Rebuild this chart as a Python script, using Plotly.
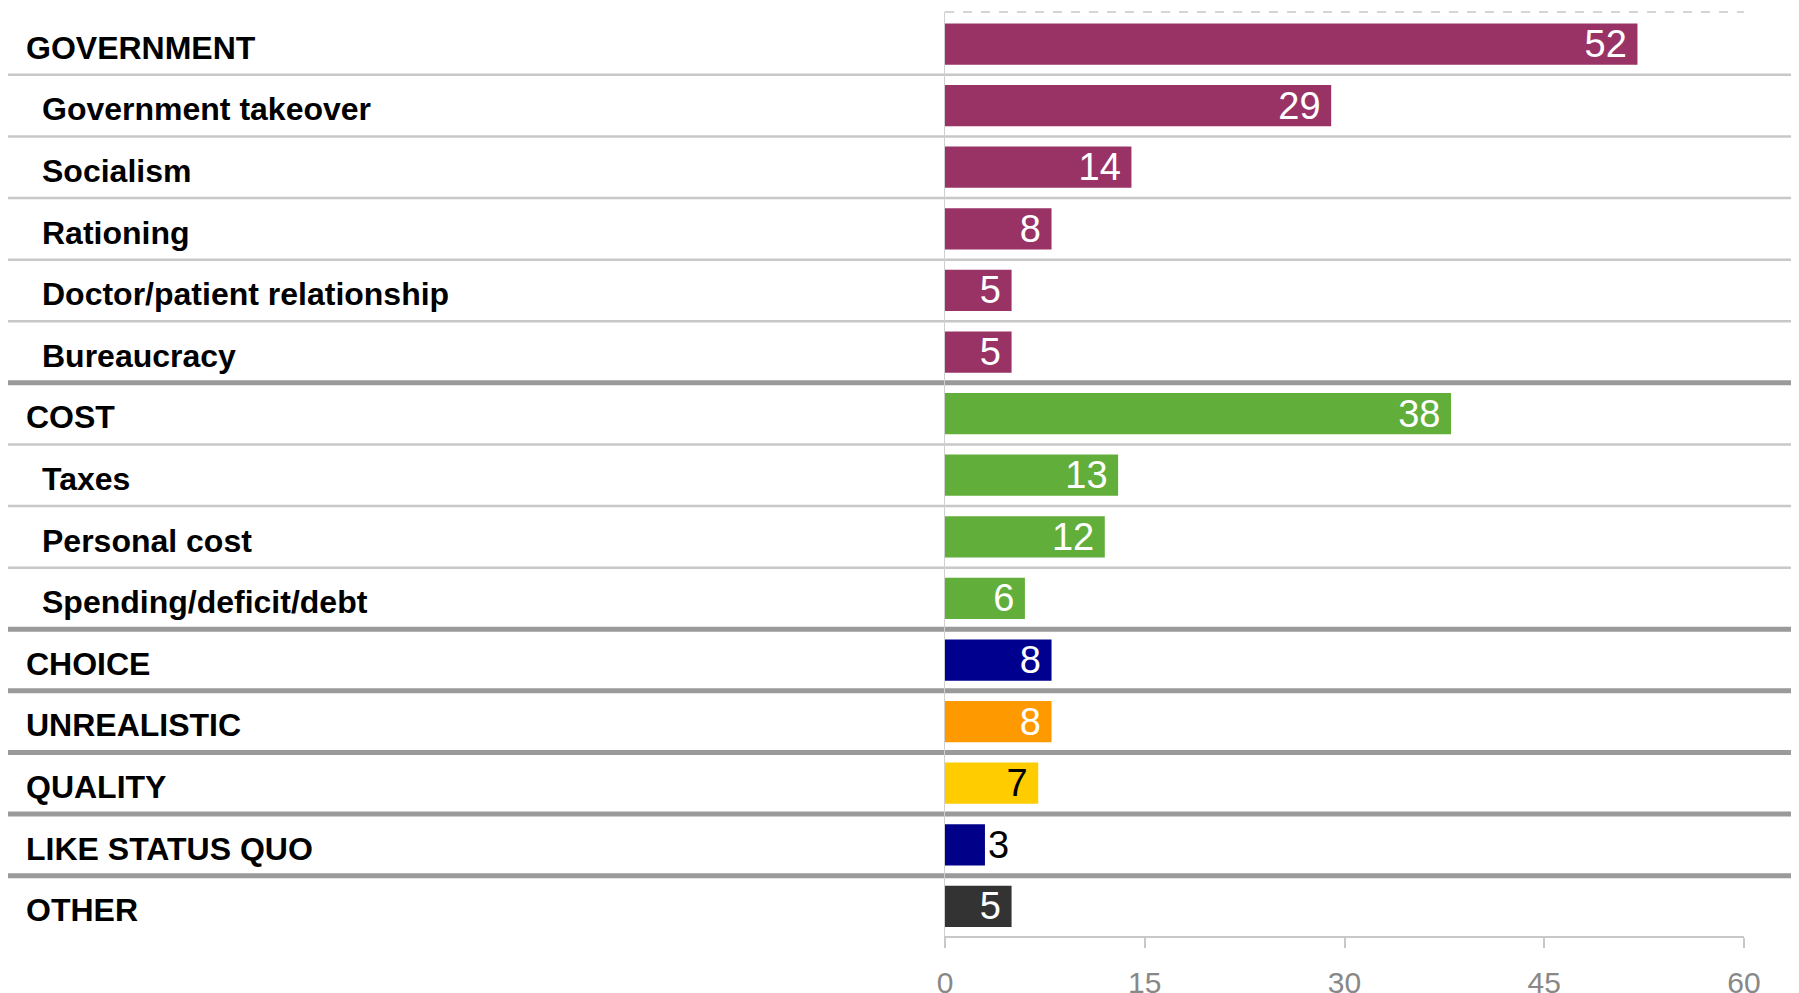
import plotly.graph_objects as go

categories = ["GOVERNMENT", "Government takeover", "Socialism", "Rationing",
              "Doctor/patient relationship", "Bureaucracy", "COST", "Taxes",
              "Personal cost", "Spending/deficit/debt", "CHOICE", "UNREALISTIC",
              "QUALITY", "LIKE STATUS QUO", "OTHER"]
values = [52, 29, 14, 8, 5, 5, 38, 13, 12, 6, 8, 8, 7, 3, 5]
is_header = [True, False, False, False, False, False, True, False, False, False,
             True, True, True, True, True]
bar_colors = ["#993366"] * 6 + ["#62AE3A"] * 4 + ["#00008F", "#FF9900", "#FFCC00",
                                                 "#000088", "#333333"]
text_colors = ["white"] * 12 + ["black", "black", "white"]
text_positions = ["inside"] * 13 + ["outside", "inside"]
thick_after = [5, 9, 10, 11, 12, 13]
tick_vals = [0, 15, 30, 45, 60]

# figure placed inside the default 8px body margin, reaching the viewport edges
W, H = 1791, 985
FONT = "Liberation Sans, Arial, sans-serif"
rows = list(range(len(categories)))

labels = [(str(v) + "\u2009") if p == "inside" else str(v)
          for v, p in zip(values, text_positions)]

fig = go.Figure()
fig.add_trace(go.Bar(
    x=values, y=rows, orientation="h",
    marker=dict(color=bar_colors, line=dict(width=0)),
    width=0.67,
    text=labels,
    textposition=text_positions,
    insidetextanchor="end",
    textangle=0,
    textfont=dict(family=FONT, size=38, color=text_colors),
    constraintext="none",
    cliponaxis=False,
    hoverinfo="skip",
))

shapes = []
for i in range(len(categories) - 1):
    thick = i in thick_after
    shapes.append(dict(
        type="line", xref="paper", yref="y",
        x0=0, x1=1, y0=i + 0.5, y1=i + 0.5,
        line=dict(color="#9a9a9a" if thick else "#c8c8c8", width=5 if thick else 2.5),
        layer="below",
    ))
shapes.append(dict(type="line", xref="x", yref="paper", x0=0, x1=60, y0=1, y1=1,
                   line=dict(color="#c8c8c8", width=1.5, dash="dash"), layer="below"))

annotations = []
for i, (c, h) in enumerate(zip(categories, is_header)):
    annotations.append(dict(
        x=(16 if h else 32) / W, xref="paper", xanchor="left",
        y=i + 0.06, yref="y", yanchor="middle",
        text="<b>" + c + "</b>", showarrow=False,
        font=dict(family=FONT, size=32, color="black"),
    ))

t, b = 3.5, 57
fig.update_layout(
    width=W, height=H,
    margin=dict(l=0, r=0, t=t, b=b, pad=0),
    paper_bgcolor="white", plot_bgcolor="white",
    showlegend=False,
    shapes=shapes, annotations=annotations,
    xaxis=dict(
        domain=[937 / W, 1736 / W], range=[0, 60],
        tickvals=tick_vals, ticktext=[str(v) for v in tick_vals],
        showgrid=False, zeroline=False,
        showline=True, linecolor="#c8c8c8", linewidth=2,
        ticks="outside", ticklen=10, tickcolor="#c8c8c8", tickwidth=2,
        ticklabelstandoff=9,
        tickfont=dict(family=FONT, size=30, color="#888888"),
        fixedrange=True, automargin=False,
    ),
    yaxis=dict(
        range=[14.48, -0.52], showticklabels=False,
        showgrid=False, zeroline=False,
        showline=True, linecolor="#d0d0d0", linewidth=1,
        fixedrange=True, automargin=False,
    ),
)

fig.write_html(
    "out.html",
    post_script="document.documentElement.style.overflow='hidden';"
                "document.body.style.overflow='hidden';",
)
